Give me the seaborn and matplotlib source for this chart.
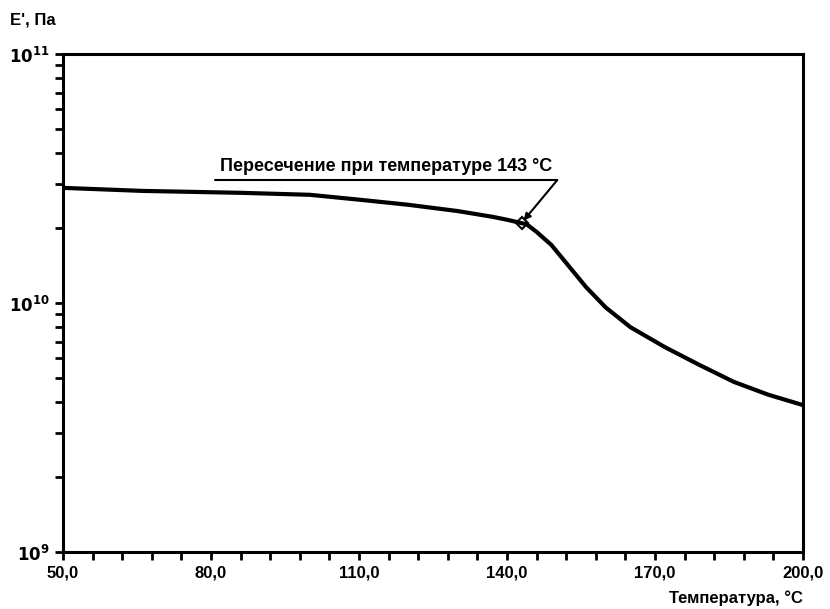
import numpy as np
import pandas as pd
import matplotlib
matplotlib.use("Agg")
import matplotlib.pyplot as plt
import matplotlib.ticker as mticker
import seaborn as sns

temps = [50, 66, 86, 100, 110, 120, 130, 137, 140, 144, 146, 149, 153, 156, 160, 165,
         172, 179, 186, 193, 200]
modulus = [2.90e10, 2.82e10, 2.77e10, 2.72e10, 2.60e10, 2.48e10, 2.34e10, 2.22e10, 2.16e10,
           2.07e10, 1.93e10, 1.71e10, 1.37e10, 1.16e10, 9.6e9, 8.0e9, 6.65e9, 5.64e9,
           4.82e9, 4.28e9, 3.89e9]
x_ticks = [50, 80, 110, 140, 170, 200]
x_tick_labels = ["50,0", "80,0", "110,0", "140,0", "170,0", "200,0"]
y_ticks = [1e9, 1e10, 1e11]
y_tick_labels = [r"$\mathbf{10^{9}}$", r"$\mathbf{10^{10}}$", r"$\mathbf{10^{11}}$"]
cross_T = 143
cross_E = 2.1e10
annot_text = "Пересечение при температуре 143 °С"
xlabel = "Температура, °С"
ylabel = "E', Па"

sns.set_style("white")
plt.rcParams['font.family'] = ['Liberation Sans', 'DejaVu Sans']
plt.rcParams['font.weight'] = 'bold'
plt.rcParams['text.color'] = 'black'
plt.rcParams['xtick.color'] = 'black'
plt.rcParams['ytick.color'] = 'black'

fig = plt.figure(figsize=(8.3, 6.09), dpi=100)
ax = fig.add_axes([63/830, 1-552/609, 740/830, 498/609])

df = pd.DataFrame({"T": temps, "E": modulus})
sns.lineplot(data=df, x="T", y="E", ax=ax, color="black", lw=3.0)
for ln in ax.get_lines():
    ln.set_solid_joinstyle('round')
    ln.set_solid_capstyle('round')
ax.set_yscale("log")
ax.set_xlim(50, 200)
ax.set_ylim(1e9, 1e11)

ax.set_xticks(x_ticks)
ax.set_xticklabels(x_tick_labels, fontsize=12, fontweight='bold')
ax.xaxis.set_minor_locator(mticker.FixedLocator(np.arange(50, 201, 6)))
ax.set_yticks(y_ticks)
ax.set_yticklabels(y_tick_labels, fontsize=12)
ax.yaxis.set_minor_locator(mticker.LogLocator(base=10, subs=np.arange(2, 10)))
ax.yaxis.set_minor_formatter(mticker.NullFormatter())

for s in ax.spines.values():
    s.set_linewidth(2.2)
    s.set_color("black")
ax.tick_params(which='both', direction='out', width=2, color='black', length=6,
               bottom=True, left=True, top=False, right=False, labelcolor='black')
ax.tick_params(axis='x', which='major', pad=4)
ax.set_xlabel("")
ax.set_ylabel("")

fig.text(10/830, 1-20/609, ylabel, fontsize=12, fontweight='bold', va='center', ha='left')
fig.text(803/830, 1-598/609, xlabel, fontsize=12, fontweight='bold', va='center', ha='right')

# annotation
ax.plot(cross_T, cross_E, marker='D', ms=6, mfc='none', mec='black', mew=1.5)
ax.text(0.436, 0.757, annot_text, transform=ax.transAxes, ha='center', va='bottom',
        fontsize=13, fontweight='bold')
ax.plot([0.205, 0.668], [0.747, 0.747], transform=ax.transAxes, color='black', lw=1.5)
ax.annotate("", xy=(cross_T, cross_E), xycoords='data',
            xytext=(0.668, 0.747), textcoords='axes fraction',
            arrowprops=dict(arrowstyle='-|>', lw=1.5, color='black', mutation_scale=10,
                            shrinkA=0, shrinkB=2))

fig.savefig("out.png", dpi=100)
